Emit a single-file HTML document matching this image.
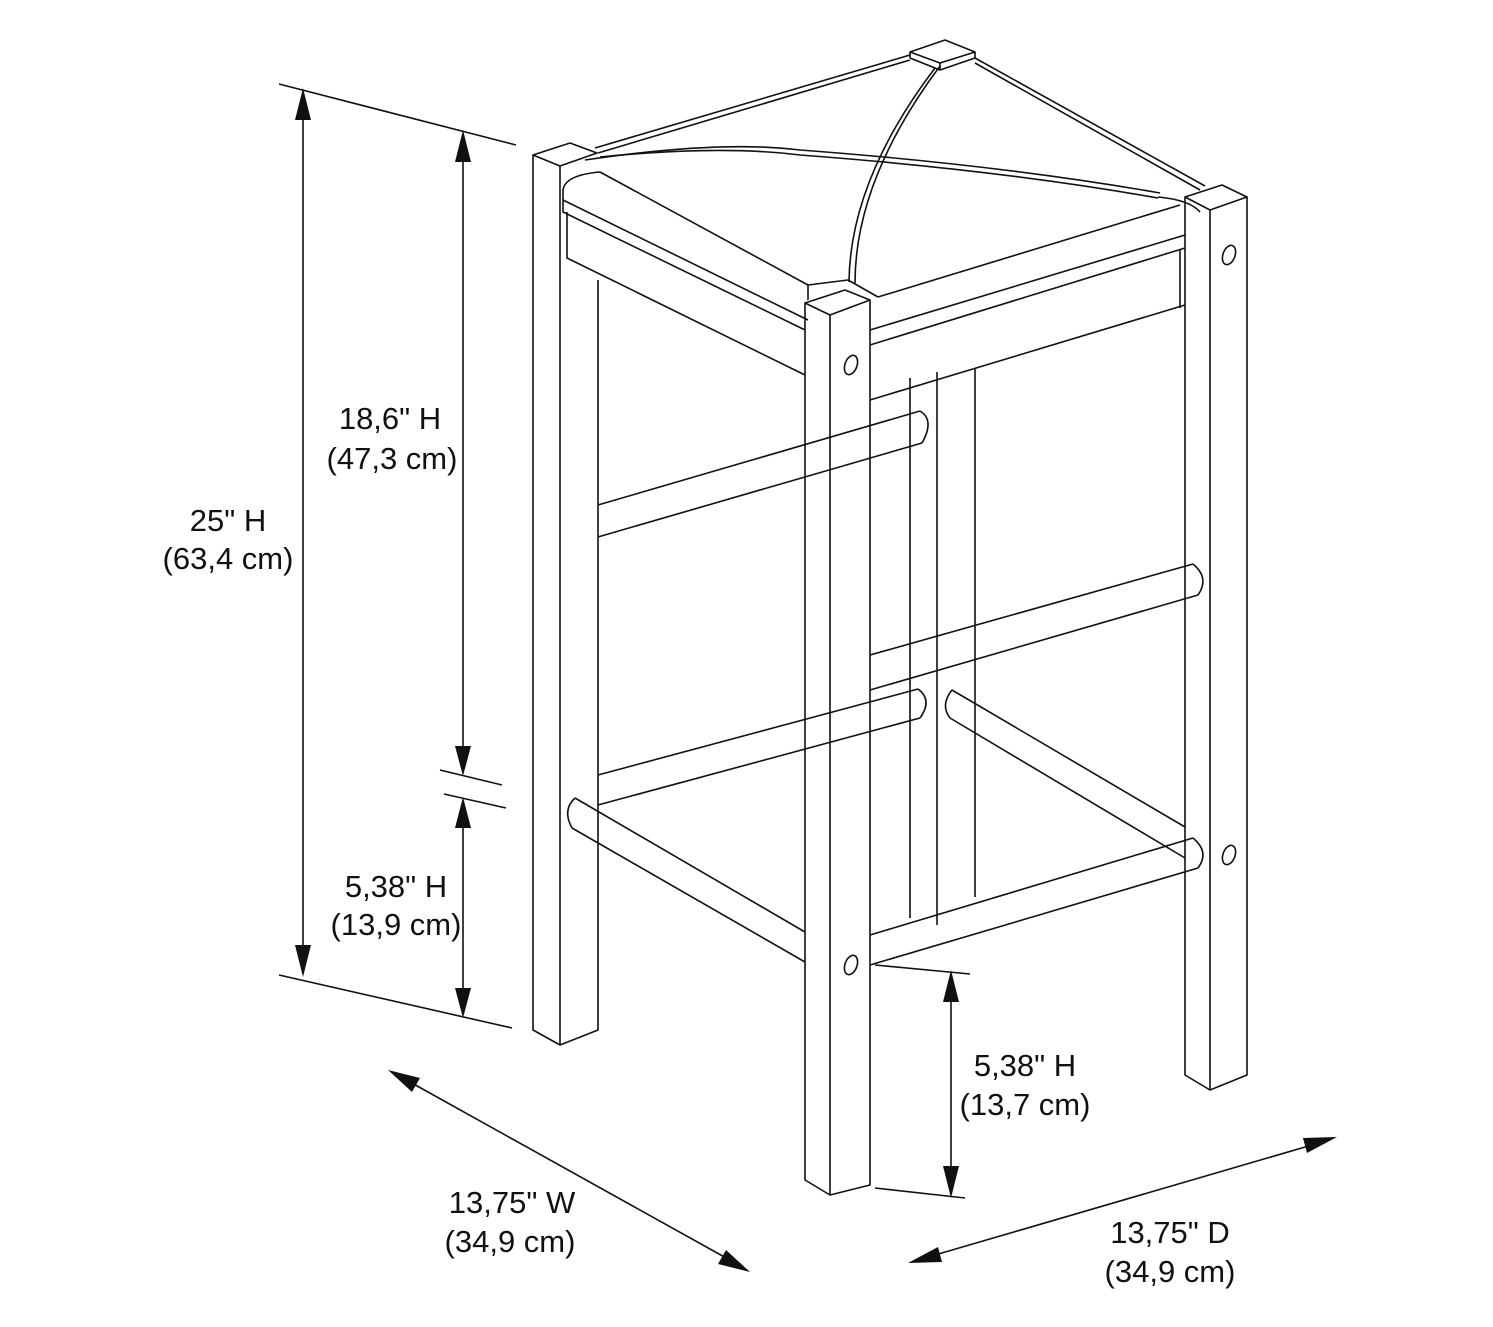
<!DOCTYPE html>
<html><head><meta charset="utf-8"><style>
html,body{margin:0;padding:0;background:#fff}
svg{display:block}
text{font-family:"Liberation Sans",Arial,sans-serif;font-size:31px;fill:#111;text-anchor:middle}
</style></head><body>
<svg width="1493" height="1327" viewBox="0 0 1493 1327" xmlns="http://www.w3.org/2000/svg">
<g fill="none" stroke="#111" stroke-width="1.6" stroke-linejoin="round">
<line x1="279" y1="84" x2="516" y2="145"/>
<line x1="279" y1="975" x2="512" y2="1028"/>
<line x1="303" y1="115" x2="303" y2="950"/>
<line x1="463" y1="160" x2="463" y2="750"/>
<line x1="463" y1="825" x2="463" y2="995"/>
<line x1="440" y1="770" x2="502" y2="785"/>
<line x1="444" y1="794" x2="506" y2="808"/>
<line x1="875" y1="965" x2="970" y2="974"/>
<line x1="875" y1="1188" x2="965" y2="1198"/>
<line x1="951" y1="1000" x2="951" y2="1170"/>
<line x1="410" y1="1082" x2="728" y2="1259"/>
<line x1="935" y1="1255" x2="1312" y2="1145"/>

<polygon points="533,155 570,143 597,153 560,166" fill="#fff"/>
<polyline points="533,155 533,1030 560,1045 598,1030 598,280"/>
<line x1="560" y1="166" x2="560" y2="1045"/>
<line x1="910" y1="378" x2="910" y2="918"/>
<line x1="937" y1="372" x2="937" y2="925"/>
<line x1="975" y1="368" x2="975" y2="897"/>
<polygon points="910,52 945,40 975,52 940,63" fill="#fff"/>
<polyline points="940,63 940,70 975,58 975,52"/>
<line x1="910" y1="52" x2="910" y2="58"/>
<line x1="910" y1="58" x2="940" y2="70"/>
<polygon points="1185,197 1222,185 1247,197 1210,210" fill="#fff"/>
<polyline points="1185,197 1185,1075 1210,1090 1247,1075 1247,197"/>
<line x1="1210" y1="210" x2="1210" y2="1090"/>
<ellipse cx="1229" cy="255" rx="6" ry="10" transform="rotate(20 1229 255)"/>
<ellipse cx="1229" cy="855" rx="6" ry="10" transform="rotate(20 1229 855)"/>

<line x1="595" y1="148" x2="910" y2="55"/>
<line x1="598" y1="153" x2="910" y2="60"/>
<line x1="975" y1="58" x2="1205" y2="186"/>
<line x1="975" y1="63" x2="1200" y2="190"/>
<path d="M585,160 Q720,140 800,150 Q1000,165 1160,193"/>
<path d="M600,157 Q720,145 800,155 Q1000,170 1158,198"/>
<path d="M935,68 Q850,180 849,282"/>
<path d="M940,66 Q855,180 855,283"/>
<path d="M600,172 Q565,175 563,190 L563,200 L808,320"/>
<path d="M600,172 L808,285"/>
<path d="M1158,197 Q1190,200 1200,212"/>
<path d="M878,297 L1180,205"/>
<path d="M808,285 L848,280 L878,297"/>
<line x1="808" y1="285" x2="808" y2="300"/>
<polyline points="563,200 563,212 805,330"/>
<polyline points="567,212 567,258 805,375"/>
<polyline points="870,330 1185,235"/>
<polyline points="870,345 1185,248"/>
<polyline points="870,400 1185,305"/>
<line x1="1180" y1="250" x2="1180" y2="308"/>

<line x1="598" y1="505" x2="920" y2="411"/>
<line x1="598" y1="537" x2="922" y2="443"/>
<path d="M920,411 Q935,420 922,443"/>
<line x1="598" y1="775" x2="918" y2="689"/>
<line x1="598" y1="805" x2="920" y2="718"/>
<path d="M918,689 Q933,700 920,718"/>
<path d="M952,690 Q940,705 950,718"/>
<line x1="952" y1="690" x2="1185" y2="827"/>
<line x1="950" y1="718" x2="1185" y2="858"/>

<path d="M575,798 Q562,810 572,828"/>
<line x1="575" y1="798" x2="805" y2="932"/>
<line x1="572" y1="828" x2="805" y2="962"/>
<line x1="870" y1="655" x2="1193" y2="564"/>
<line x1="870" y1="690" x2="1198" y2="595"/>
<path d="M1193,564 Q1210,578 1198,595"/>
<line x1="870" y1="935" x2="1193" y2="838"/>
<line x1="870" y1="965" x2="1198" y2="868"/>
<path d="M1193,838 Q1210,852 1198,868"/>

<polygon points="805,303 845,290 870,300 830,315" fill="#fff"/>
<polyline points="805,303 805,1180 830,1195 870,1185 870,300"/>
<line x1="830" y1="315" x2="830" y2="1195"/>
<ellipse cx="851" cy="365" rx="6" ry="10" transform="rotate(20 851 365)"/>
<ellipse cx="851" cy="965" rx="6" ry="10" transform="rotate(20 851 965)"/>
</g>

<g fill="#111">
<polygon points="303,88 295,120 311,120"/>
<polygon points="303,977 295,945 311,945"/>
<polygon points="463,130 455,162 471,162"/>
<polygon points="463,776 455,746 471,746"/>
<polygon points="463,797 455,828 471,828"/>
<polygon points="463,1018 455,988 471,988"/>
<polygon points="951,970 943,1002 959,1002"/>
<polygon points="951,1198 943,1166 959,1166"/>
<polygon points="388,1070 420,1078 412,1092"/>
<polygon points="750,1272 718,1264 726,1250"/>
<polygon points="908,1263 938,1247 942,1262"/>
<polygon points="1337,1137 1307,1153 1303,1138"/>
</g>

<text x="390" y="429">18,6" H</text>
<text x="392" y="469">(47,3 cm)</text>
<text x="228" y="531">25" H</text>
<text x="228" y="569">(63,4 cm)</text>
<text x="396" y="897">5,38" H</text>
<text x="396" y="935">(13,9 cm)</text>
<text x="1025" y="1076">5,38" H</text>
<text x="1025" y="1115">(13,7 cm)</text>
<text x="512" y="1213">13,75" W</text>
<text x="510" y="1252">(34,9 cm)</text>
<text x="1170" y="1243">13,75" D</text>
<text x="1170" y="1282">(34,9 cm)</text>
</svg>
</body></html>
